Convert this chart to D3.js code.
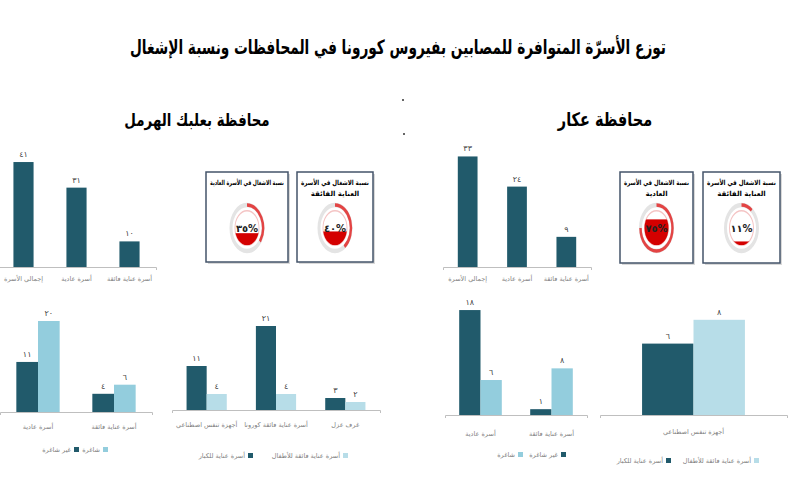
<!DOCTYPE html>
<html><head><meta charset="utf-8">
<script src="https://cdn.jsdelivr.net/npm/d3@7"></script>
<style>body{margin:0;background:#fff}svg{display:block}text{font-family:"DejaVu Sans",sans-serif}</style>
</head><body><svg id="c" width="800" height="500"></svg>
<script>
const title = "توزع الأسرّة المتوافرة للمصابين بفيروس كورونا في المحافظات ونسبة الإشغال";
const provinces = ["محافظة بعلبك الهرمل", "محافظة عكار"];
const bedCategories = ["إجمالي الأسرة", "أسرة عادية", "أسرة عناية فائقة"];
const baalbekBeds = [41, 31, 10];
const akkarBeds = [33, 24, 9];
const occupancyCategories = ["أسرة عادية", "أسرة عناية فائقة"];
const occupancySeries = ["غير شاغرة", "شاغرة"];
const baalbekOccupied = [11, 4];
const baalbekVacant = [20, 6];
const akkarOccupied = [18, 1];
const akkarVacant = [6, 8];
const equipSeries = ["أسرة عناية للكبار", "أسرة عناية فائقة للأطفال"];
const baalbekEquipCategories = ["أجهزة تنفس اصطناعي", "أسرة عناية فائقة كورونا", "غرف عزل"];
const baalbekAdult = [11, 21, 3];
const baalbekChild = [4, 4, 2];
const akkarEquipCategories = ["أجهزة تنفس اصطناعي"];
const akkarAdult = [6];
const akkarChild = [8];
const gaugeTitles = [["نسبة الاشغال في الأسرة العادية"], ["نسبة الاشغال في الأسرة", "العناية الفائقة"]];
const akkarGaugeTitles = [["نسبة الاشغال في الأسرة", "العادية"], ["نسبة الاشغال في الأسرة", "العناية الفائقة"]];
const baalbekRates = [35, 40];
const akkarRates = [75, 11];

const DARK = "#215a6b", LIGHT = "#93cddd", LIGHT2 = "#b7dde8";
const ar = n => String(n).replace(/\d/g, d => "٠١٢٣٤٥٦٧٨٩"[d]);
const svg = d3.select("#c");

function fitText(sel, maxW) {
  sel.each(function () {
    const w = this.getComputedTextLength();
    if (w > maxW) {
      const x = +this.getAttribute("x"), y = +this.getAttribute("y");
      this.setAttribute("transform", `translate(${x},${y}) scale(${maxW / w},1) translate(${-x},${-y})`);
    }
  });
}

svg.append("text").attr("text-anchor", "middle").attr("transform", "translate(398,54) scale(1,1.45)")
  .attr("font-size", 13.7).attr("font-weight", "bold").attr("fill", "#000").text(title);
svg.append("text").attr("text-anchor", "middle").attr("transform", "translate(197,126) scale(1,1.3)")
  .attr("font-size", 13.4).attr("font-weight", "bold").text(provinces[0]);
svg.append("text").attr("text-anchor", "middle").attr("transform", "translate(605,126) scale(1,1.3)")
  .attr("font-size", 14.5).attr("font-weight", "bold").text(provinces[1]);
svg.append("circle").attr("cx", 403).attr("cy", 100).attr("r", 1).attr("fill", "#333");
svg.append("circle").attr("cx", 404).attr("cy", 134).attr("r", 1).attr("fill", "#333");

function barChart(o) {
  const g = svg.append("g");
  const x0 = d3.scaleBand().domain(o.cats).range([o.x0, o.x1]).paddingInner(o.pad).paddingOuter(o.pad / 2);
  const x1 = d3.scaleBand().domain(o.series.map((s, i) => i)).range([0, x0.bandwidth()]);
  const max = d3.max(o.series, s => d3.max(s.values));
  const y = d3.scaleLinear().domain([0, max]).range([o.base, o.base - max * o.ppu]);
  o.series.forEach((s, si) => {
    g.selectAll(null).data(s.values).enter().append("rect")
      .attr("x", (d, i) => x0(o.cats[i]) + x1(si)).attr("width", x1.bandwidth())
      .attr("y", d => y(d)).attr("height", d => o.base - y(d)).attr("fill", s.color);
    g.selectAll(null).data(s.values).enter().append("text")
      .attr("x", (d, i) => x0(o.cats[i]) + x1(si) + x1.bandwidth() / 2)
      .attr("y", d => y(d) - 5).attr("text-anchor", "middle")
      .attr("font-size", 8).attr("fill", "#404040").text(d => ar(d));
  });
  const ax = g.append("g").attr("transform", `translate(0,${o.base})`)
    .call(d3.axisBottom(x0).tickSize(0).tickSizeOuter(3).tickPadding(o.lp));
  ax.select(".domain").attr("stroke", "#bfbfbf");
  ax.selectAll("text").attr("font-size", 6.5).attr("fill", "#7f7f7f");
  return g;
}
function legend(items, y) {
  items.forEach(it => {
    svg.append("rect").attr("x", it.x).attr("y", y - 5).attr("width", 5).attr("height", 5).attr("fill", it.color);
    svg.append("text").attr("x", it.x - 3).attr("y", y).attr("text-anchor", "end")
      .attr("font-size", 6.5).attr("fill", "#7f7f7f").text(it.text);
  });
}
function gaugeBox(bx, by, bw, bh, lines, value) {
  svg.append("rect").attr("x", bx + 2).attr("y", by + 2).attr("width", bw).attr("height", bh).attr("fill", "#d9d9d9");
  svg.append("rect").attr("x", bx).attr("y", by).attr("width", bw).attr("height", bh)
    .attr("fill", "#fff").attr("stroke", "#44546a").attr("stroke-width", 1.5);
  lines.forEach((l, i) => svg.append("text").attr("x", bx + bw / 2).attr("y", by + 13 + i * 11)
    .attr("text-anchor", "middle").attr("font-size", 7).attr("font-weight", "bold").text(l)
    .call(fitText, bw - 8));
  const cx = bx + bw / 2, cy = by + 56, rx = 16, ry = 23;
  const g = svg.append("g").attr("transform", `translate(${cx},${cy}) scale(1,${ry / rx})`);
  g.append("circle").attr("r", rx).attr("fill", "none").attr("stroke", "#e4e4e4").attr("stroke-width", 3);
  g.append("path").attr("d", d3.arc()({innerRadius: rx - 1.2, outerRadius: rx + 1.2, startAngle: 0, endAngle: 2 * Math.PI * value / 100}))
    .attr("fill", "#e21b1b").attr("opacity", 0.8);
  const id = "cl" + Math.round(bx);
  g.append("clipPath").attr("id", id).append("circle").attr("r", rx - 4);
  g.append("circle").attr("r", rx - 4).attr("fill", "#fff").attr("stroke", "#f4c4c4").attr("stroke-width", 1);
  const fy = d3.scaleLinear().domain([0, 100]).range([rx - 4, -(rx - 4)]);
  g.append("rect").attr("clip-path", `url(#${id})`).attr("x", -rx).attr("width", 2 * rx)
    .attr("y", fy(value)).attr("height", rx - 4 - fy(value)).attr("fill", "#d40000");
  svg.append("text").attr("x", cx).attr("y", cy + 4).attr("text-anchor", "middle")
    .attr("font-size", 10).attr("font-weight", "bold").attr("fill", "#222").text(ar(value) + "%");
}

// top bar charts
barChart({cats: bedCategories, series: [{values: baalbekBeds, color: DARK}], x0: -3, x1: 156, pad: 0.62, base: 267, ppu: 2.56, lp: 9});
barChart({cats: bedCategories, series: [{values: akkarBeds, color: DARK}], x0: 443, x1: 591, pad: 0.6, base: 267, ppu: 3.35, lp: 9});

// gauges
gaugeBox(206, 172, 82, 90, gaugeTitles[0], baalbekRates[0]);
gaugeBox(297, 172, 76, 90, gaugeTitles[1], baalbekRates[1]);
gaugeBox(620, 172, 73, 91, akkarGaugeTitles[0], akkarRates[0]);
gaugeBox(703, 172, 77, 91, akkarGaugeTitles[1], akkarRates[1]);

// bottom charts
barChart({cats: occupancyCategories, series: [{values: baalbekOccupied, color: DARK}, {values: baalbekVacant, color: LIGHT}], x0: 0, x1: 152, pad: 0.43, base: 412, ppu: 4.55, lp: 12});
legend([{x: 74, color: DARK, text: occupancySeries[0]}, {x: 103, color: LIGHT, text: occupancySeries[1]}], 452);

barChart({cats: baalbekEquipCategories, series: [{values: baalbekAdult, color: DARK}, {values: baalbekChild, color: LIGHT2}], x0: 172, x1: 380, pad: 0.42, base: 410, ppu: 4.0, lp: 12});
legend([{x: 248, color: DARK, text: equipSeries[0]}, {x: 343, color: LIGHT2, text: equipSeries[1]}], 458);

barChart({cats: occupancyCategories, series: [{values: akkarOccupied, color: DARK}, {values: akkarVacant, color: LIGHT}], x0: 445, x1: 587, pad: 0.4, base: 415, ppu: 5.83, lp: 16});
legend([{x: 561, color: DARK, text: occupancySeries[0]}, {x: 518, color: LIGHT, text: occupancySeries[1]}], 457);

barChart({cats: akkarEquipCategories, series: [{values: akkarAdult, color: DARK}, {values: akkarChild, color: LIGHT2}], x0: 600, x1: 787, pad: 0.45, base: 415, ppu: 11.9, lp: 14});
legend([{x: 666, color: DARK, text: equipSeries[0]}, {x: 754, color: LIGHT2, text: equipSeries[1]}], 463);
</script></body></html>
